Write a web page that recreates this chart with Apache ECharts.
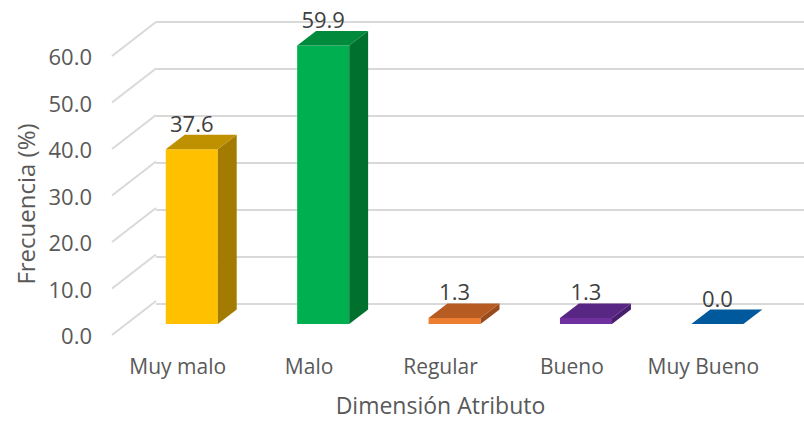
<!DOCTYPE html>
<html>
<head>
<meta charset="utf-8">
<script src="https://cdn.jsdelivr.net/npm/echarts@6/dist/echarts.min.js"></script>
<style>
html,body{margin:0;padding:0;background:#fff;}
#chart{width:804px;height:421px;}
</style>
</head>
<body>
<div id="chart"></div>
<script>
// ---- data ----
var categories = ['Muy malo', 'Malo', 'Regular', 'Bueno', 'Muy Bueno'];
var values = [37.6, 59.9, 1.3, 1.3, 0.0];
var yTicks = [0, 10, 20, 30, 40, 50, 60];
var xTitle = 'Dimensión Atributo';
var yTitle = 'Frecuencia (%)';

// ---- styling ----
var faceColors = [
  {front: '#FFC000', top: '#BF9000', side: '#A37B00'},
  {front: '#00B050', top: '#008A3C', side: '#00702F'},
  {front: '#ED7D31', top: '#B65B22', side: '#9A4B1B'},
  {front: '#7030A0', top: '#582783', side: '#481F6C'},
  {front: '#0070C0', top: '#00599C', side: '#004A82'}
];
var FONT = '"Open Sans", "Noto Sans", sans-serif';
var TXT = '#595959';
var GRID_C = '#D9D9D9';
// wall depth (front plane -> back plane)
var DX = 44, DY = -34;
// bar position in depth
var B0 = 0.32, B1 = 0.75;
var BAR_W = 0.396;

var chart = echarts.init(document.getElementById('chart'), null, {renderer: 'svg'});

function barItem(params, api) {
  var i = api.value(0), v = api.value(1);
  var base = api.coord([i, 0]);
  var topP = api.coord([i, v]);
  var band = api.size([1, 0])[0];
  var w = band * BAR_W;
  var ox = DX * B0, oy = DY * B0;
  var dx = DX * (B1 - B0), dy = DY * (B1 - B0);
  var l = base[0] + ox - w / 2, r = base[0] + ox + w / 2;
  var b = base[1] + oy, t = topP[1] + oy;
  var c = faceColors[params.dataIndex];
  var children = [];
  if (b - t > 0.01) {
    children.push({type: 'polygon', shape: {points: [[l, t], [r, t], [r, b], [l, b]]}, style: {fill: c.front}});
    children.push({type: 'polygon', shape: {points: [[r, t], [r + dx, t + dy], [r + dx, b + dy], [r, b]]}, style: {fill: c.side}});
  }
  children.push({type: 'polygon', shape: {points: [[l, t], [l + dx, t + dy], [r + dx, t + dy], [r, t]]}, style: {fill: c.top}});
  children.push({type: 'text', style: {
    text: v.toFixed(1), x: (l + r) / 2, y: t + dy - 1,
    align: 'center', verticalAlign: 'bottom',
    fill: '#404040', fontSize: 22, fontFamily: FONT
  }});
  return {type: 'group', children: children};
}

function diagItem(params, api) {
  var v = api.value(1);
  var p = api.coord([0, v]);
  var band = api.size([1, 0])[0];
  var x0 = p[0] - band / 2;
  return {type: 'line', shape: {x1: x0, y1: p[1], x2: x0 + DX, y2: p[1] + DY},
    style: {stroke: GRID_C, lineWidth: 2}};
}

var option = {
  backgroundColor: '#ffffff',
  animation: false,
  grid: [
    {left: 112, top: 56, width: 657, height: 282},
    {left: 112 + DX, top: 56 + DY, width: 657, height: 282}
  ],
  xAxis: [
    {type: 'category', gridIndex: 0, data: categories,
     axisLine: {show: false}, axisTick: {show: false},
     axisLabel: {color: TXT, fontSize: 21, fontFamily: FONT, margin: 20, interval: 0},
     name: xTitle, nameLocation: 'middle', nameGap: 58,
     nameTextStyle: {color: TXT, fontSize: 23, fontFamily: FONT}},
    {type: 'category', gridIndex: 1, data: categories,
     axisLine: {show: false}, axisTick: {show: false}, axisLabel: {show: false}}
  ],
  yAxis: [
    {type: 'value', gridIndex: 0, min: 0, max: 60, interval: 10,
     axisLine: {show: false}, axisTick: {show: false}, splitLine: {show: false},
     axisLabel: {color: TXT, fontSize: 22, fontFamily: FONT, margin: 20,
       formatter: function (v) { return v.toFixed(1); }}},
    {type: 'value', gridIndex: 1, min: 0, max: 60, interval: 10,
     axisLine: {show: false}, axisTick: {show: false}, axisLabel: {show: false},
     splitLine: {show: true, lineStyle: {color: GRID_C, width: 2}}}
  ],
  graphic: [{
    type: 'text', x: 25, y: 204, rotation: Math.PI / 2,
    style: {text: yTitle, align: 'center', verticalAlign: 'middle',
      fill: TXT, fontSize: 24, fontFamily: FONT}
  }],
  series: [
    {type: 'custom', xAxisIndex: 0, yAxisIndex: 0, renderItem: diagItem,
     data: yTicks.map(function (v) { return [0, v]; }), z: 1, silent: true},
    {type: 'custom', xAxisIndex: 0, yAxisIndex: 0, renderItem: barItem,
     data: values.map(function (v, i) { return [i, v]; }), z: 3}
  ]
};
chart.setOption(option);
</script>
</body>
</html>
